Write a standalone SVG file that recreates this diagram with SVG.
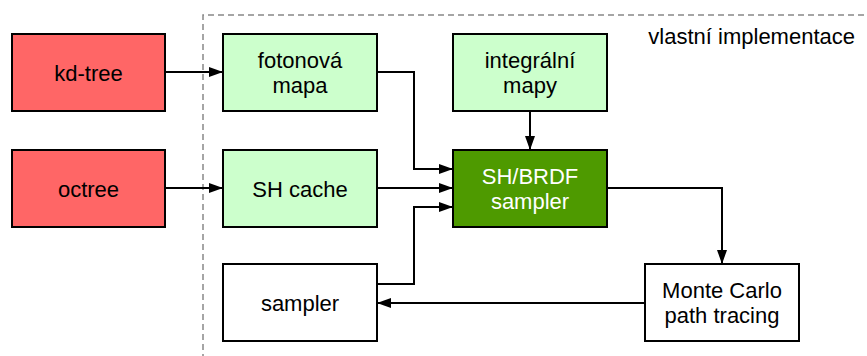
<svg xmlns="http://www.w3.org/2000/svg" width="867" height="356" viewBox="0 0 867 356">
  <defs>
    <marker id="arrow" viewBox="0 0 14 10" refX="14" refY="5" markerWidth="14" markerHeight="10" markerUnits="userSpaceOnUse" orient="auto">
      <path d="M0,0 L14,5 L0,10 Z" fill="#000"/>
    </marker>
    <style>
      .box { stroke: #000; stroke-width: 2; }
      .ext { fill: #ff6666; }
      .own { fill: #ccffcc; }
      .core { fill: #4e9a00; }
      .plain { fill: #fff; }
      text { font-family: "Liberation Sans", Arial, sans-serif; font-size: 22px; text-anchor: middle; fill: #000; }
      .light { fill: #fff; }
      .edge { fill: none; stroke: #000; stroke-width: 2; marker-end: url(#arrow); }
    </style>
  </defs>
  <rect width="867" height="356" fill="#fff"/>

  <!-- region of own implementation -->
  <g id="own-region">
    <path d="M203,360 V15 H870" fill="none" stroke="#888" stroke-width="1.5" stroke-dasharray="6,4"/>
    <text x="855" y="44" style="text-anchor:end">vlastní implementace</text>
  </g>

  <g id="kd-tree">
    <rect class="box ext" x="12" y="34" width="153" height="77"/>
    <text x="88.5" y="81">kd-tree</text>
  </g>
  <g id="octree">
    <rect class="box ext" x="12" y="150" width="153" height="77"/>
    <text x="88.5" y="197">octree</text>
  </g>
  <g id="fotonova-mapa">
    <rect class="box own" x="223" y="34" width="154" height="77"/>
    <text x="300" y="68">fotonová</text>
    <text x="300" y="93">mapa</text>
  </g>
  <g id="sh-cache">
    <rect class="box own" x="223" y="150" width="154" height="77"/>
    <text x="300" y="197">SH cache</text>
  </g>
  <g id="sampler">
    <rect class="box plain" x="223" y="264" width="154" height="77"/>
    <text x="300" y="311">sampler</text>
  </g>
  <g id="integralni-mapy">
    <rect class="box own" x="453" y="34" width="154" height="77"/>
    <text x="530" y="68">integrální</text>
    <text x="530" y="93">mapy</text>
  </g>
  <g id="sh-brdf-sampler">
    <rect class="box core" x="453" y="150" width="154" height="77"/>
    <text class="light" x="530" y="184">SH/BRDF</text>
    <text class="light" x="530" y="209">sampler</text>
  </g>
  <g id="monte-carlo">
    <rect class="box plain" x="645" y="264" width="154" height="77"/>
    <text x="722" y="298">Monte Carlo</text>
    <text x="722" y="323">path tracing</text>
  </g>

  <g id="connectors">
    <path class="edge" d="M165,72 H223"/>
    <path class="edge" d="M165,188 H223"/>
    <path class="edge" d="M377,72 H414 V169 H453"/>
    <path class="edge" d="M377,188 H453"/>
    <path class="edge" d="M377,284 H414 V207 H453"/>
    <path class="edge" d="M530,111 V150"/>
    <path class="edge" d="M607,188 H722 V264"/>
    <path class="edge" d="M645,303 H377"/>
  </g>
</svg>
